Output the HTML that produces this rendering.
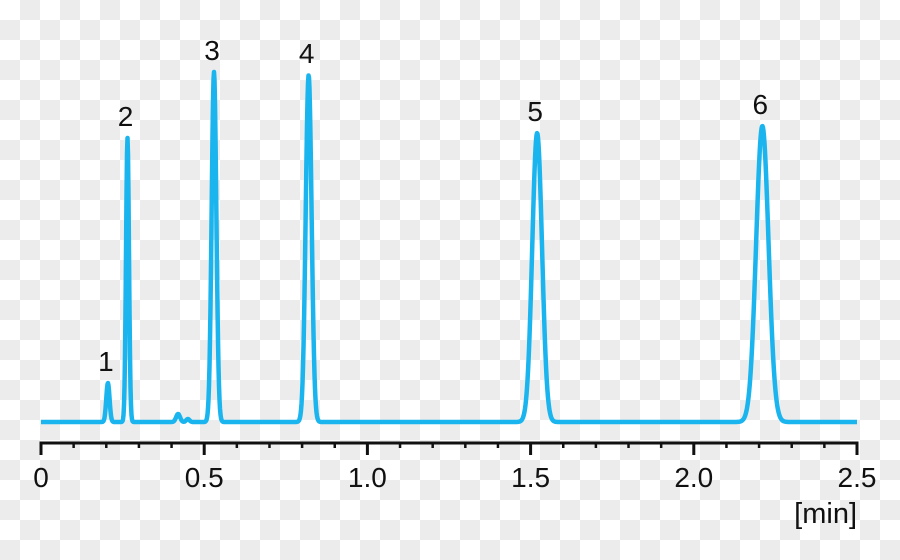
<!DOCTYPE html>
<html><head><meta charset="utf-8"><style>
html,body{margin:0;padding:0;width:900px;height:560px;overflow:hidden;background:#fff}
svg{display:block}
text{font-family:"Liberation Sans",sans-serif;fill:#111}
</style></head><body>
<svg id="chart" width="900" height="560">
<defs><pattern id="chk" width="40" height="40" patternUnits="userSpaceOnUse">
<rect width="40" height="40" fill="#fff"/><rect x="20" y="0" width="20" height="20" fill="#ececec"/><rect x="0" y="20" width="20" height="20" fill="#ececec"/></pattern></defs>
<rect width="900" height="560" fill="url(#chk)"/>
<g id="axis"></g>
<g id="plot"></g>
<text x="857" y="523" text-anchor="end" font-size="29">[min]</text>
</svg>
<script>
const peakTimes=[0.205,0.265,0.42,0.45,0.53,0.82,1.52,2.21];
const peakHeights=[39,284,8,3,350,347,289,296];
const peakSigmas=[0.005,0.0045,0.006,0.005,0.0072,0.009,0.015,0.019];
const peakLabels=["1","2","","","3","4","5","6"];
const tickLabels=["0","0.5","1.0","1.5","2.0","2.5"];
const X0=41,X1=857,BASE=422,AXY=443;
const sx=t=>X0+(t/2.5)*(X1-X0);
const sy=v=>BASE-v;
const NS="http://www.w3.org/2000/svg";
const ax=document.getElementById('axis');
const plot=document.getElementById('plot');
function mk(tag,attrs,parent){const e=document.createElementNS(NS,tag);for(const k in attrs)e.setAttribute(k,attrs[k]);parent.appendChild(e);return e;}
let l=mk('line',{x1:X0-1.5,x2:X1+1.5,y1:AXY,y2:AXY,stroke:'#111','stroke-width':3},ax);


for(let i=0;i<=25;i++){
 const major=i%5===0;
 const t=mk('line',{x1:sx(i/10),x2:sx(i/10),y1:AXY,y2:AXY+(major?12:5),stroke:'#111','stroke-width':major?3:2.5},ax);
 
 
}
tickLabels.forEach(s=>{
 const t=mk('text',{x:sx(parseFloat(s)),y:487,'text-anchor':'middle','font-size':28},ax);
 t.textContent=s;
 
 
});
let d='';
for(let px=X0;px<=X1;px+=0.5){
 const t=(px-X0)/(X1-X0)*2.5;
 let v=0;
 for(let i=0;i<peakTimes.length;i++){const z=(t-peakTimes[i])/peakSigmas[i];v+=peakHeights[i]*Math.exp(-0.5*z*z);}
 d+=(d?'L':'M')+px.toFixed(1)+','+sy(v).toFixed(2);
}
const p=mk('path',{d:d,fill:'none',stroke:'#1ab4ee','stroke-width':4.5,'stroke-linejoin':'round'},plot);


peakLabels.forEach((s,i)=>{
 if(!s)return;
 const t=mk('text',{x:sx(peakTimes[i])-2,y:sy(peakHeights[i])-12,'text-anchor':'middle','font-size':28},plot);
 t.textContent=s;
 
 
});
</script>
</body></html>
